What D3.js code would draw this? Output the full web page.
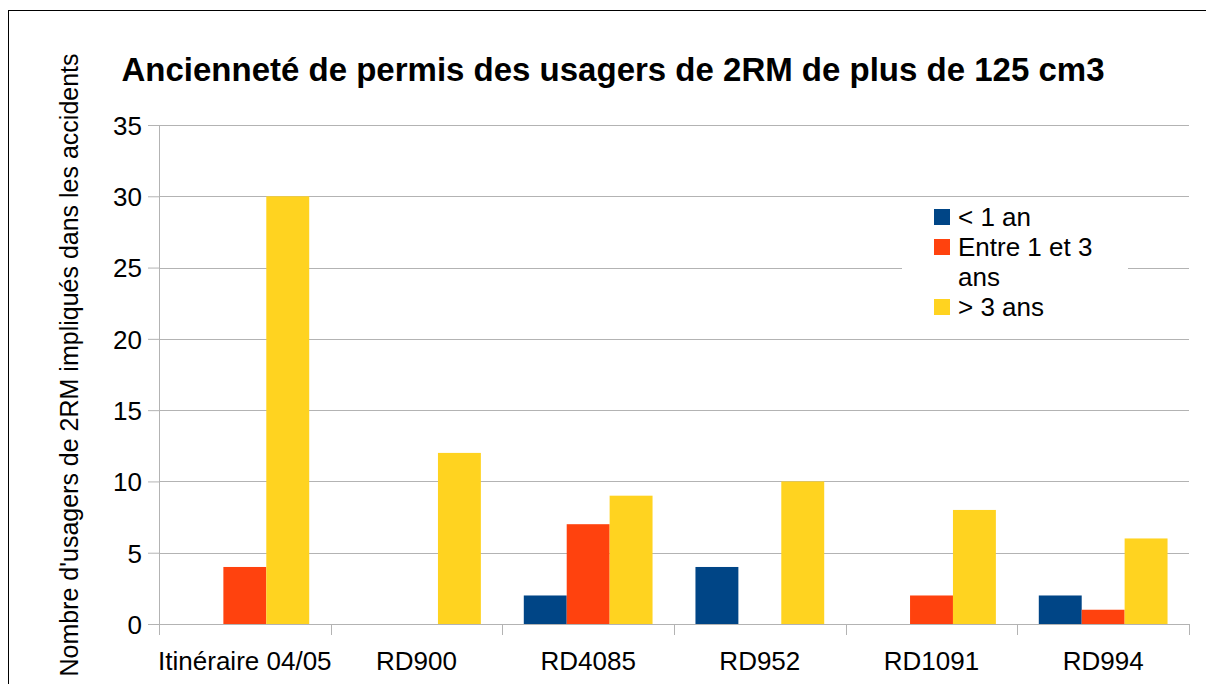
<!DOCTYPE html>
<html>
<head>
<meta charset="utf-8">
<script src="https://cdn.jsdelivr.net/npm/d3@7"></script>
<style>
  body { margin: 0; background: #fff; }
  svg { display: block; font-family: "Liberation Sans", Arial, sans-serif; }
</style>
</head>
<body>
<div id="chart"></div>
<script>
// data
const categories = ['Itinéraire 04/05', 'RD900', 'RD4085', 'RD952', 'RD1091', 'RD994'];
const seriesNames = ['< 1 an', 'Entre 1 et 3 ans', '> 3 ans'];
const lessThan1 = [0, 0, 2, 4, 0, 2];
const between1And3 = [4, 0, 7, 0, 2, 1];
const moreThan3 = [30, 12, 9, 10, 8, 6];
const yTicks = [0, 5, 10, 15, 20, 25, 30, 35];

const colors = ['#004586', '#ff420e', '#ffd320'];
const width = 1206, height = 684;
const margin = { top: 125, right: 17, bottom: 60, left: 159 };

const svg = d3.select('#chart').append('svg')
    .attr('width', width)
    .attr('height', height);

// outer frame (runs off the right and bottom edges)
svg.append('rect')
    .attr('x', 8.5).attr('y', 10.5)
    .attr('width', 1220).attr('height', 700)
    .attr('fill', '#fff').attr('stroke', '#000').attr('stroke-width', 1);

const innerW = width - margin.left - margin.right;
const innerH = height - margin.top - margin.bottom;

const x0 = d3.scaleBand().domain(categories).range([0, innerW]).paddingInner(0).paddingOuter(0);
const x1 = d3.scaleBand().domain(seriesNames).range([0, x0.bandwidth()]).paddingInner(0).paddingOuter(0.5);
const y = d3.scaleLinear().domain([0, 35]).range([innerH, 0]);

const g = svg.append('g').attr('transform', `translate(${margin.left}, ${margin.top})`);

// grid
g.append('g').selectAll('line').data(yTicks).join('line')
    .attr('x1', 0).attr('x2', innerW)
    .attr('y1', d => Math.round(y(d)) + 0.5).attr('y2', d => Math.round(y(d)) + 0.5)
    .attr('stroke', '#b3b3b3');

// bars
const rows = categories.map((c, i) => ({ cat: c, values: [lessThan1[i], between1And3[i], moreThan3[i]] }));
g.append('g').selectAll('g').data(rows).join('g')
    .attr('transform', d => `translate(${x0(d.cat)}, 0)`)
    .selectAll('rect').data(d => d.values.map((v, k) => ({ v, k })))
    .join('rect')
    .attr('x', d => x1(seriesNames[d.k]))
    .attr('width', x1.bandwidth())
    .attr('y', d => y(d.v))
    .attr('height', d => innerH - y(d.v))
    .attr('fill', d => colors[d.k]);

// y axis
const axisY = d3.axisLeft(y).tickValues(yTicks).tickSize(11).tickPadding(6);
const yG = g.append('g').call(axisY);
yG.select('.domain').attr('stroke', '#b3b3b3').attr('d', `M0.5,0V${innerH}`);
yG.selectAll('.tick line').attr('stroke', '#b3b3b3');
yG.selectAll('.tick text').attr('font-size', 26).attr('fill', '#000')
    .attr('dy', '0.36em')
    .attr('font-family', 'Liberation Sans, Arial, sans-serif');

// x axis
const xG = g.append('g').attr('transform', `translate(0, ${innerH})`);
xG.append('line').attr('x1', 0).attr('x2', innerW).attr('y1', 0.5).attr('y2', 0.5).attr('stroke', '#b3b3b3');
const xTickPos = categories.map(c => x0(c)).concat([innerW]);
xG.selectAll('line.tick').data(xTickPos).join('line')
    .attr('class', 'tick')
    .attr('x1', d => Math.round(d) + 0.5).attr('x2', d => Math.round(d) + 0.5)
    .attr('y1', 0).attr('y2', 11)
    .attr('stroke', '#b3b3b3');
xG.selectAll('text').data(categories).join('text')
    .attr('x', d => x0(d) + x0.bandwidth() / 2)
    .attr('y', 46)
    .attr('text-anchor', 'middle')
    .attr('font-size', 26)
    .text(d => d);

// title
svg.append('text')
    .attr('x', 613).attr('y', 81)
    .attr('text-anchor', 'middle')
    .attr('font-size', 33).attr('font-weight', 'bold')
    .text('Ancienneté de permis des usagers de 2RM de plus de 125 cm3');

// y title
svg.append('text')
    .attr('transform', 'translate(78, 365) rotate(-90)')
    .attr('text-anchor', 'middle')
    .attr('font-size', 25)
    .text("Nombre d'usagers de 2RM impliqués dans les accidents");

// legend
const legend = svg.append('g').attr('transform', 'translate(902, 200)');
legend.append('rect').attr('width', 226).attr('height', 130).attr('fill', '#fff');
const legendLines = [['< 1 an'], ['Entre 1 et 3', 'ans'], ['> 3 ans']];
let ly = 17;
legendLines.forEach((lines, i) => {
    legend.append('rect')
        .attr('x', 32).attr('y', ly - 8)
        .attr('width', 16).attr('height', 16)
        .attr('fill', colors[i]);
    lines.forEach(t => {
        legend.append('text')
            .attr('x', 56).attr('y', ly + 9)
            .attr('font-size', 26)
            .text(t);
        ly += 30;
    });
});
</script>
</body>
</html>
